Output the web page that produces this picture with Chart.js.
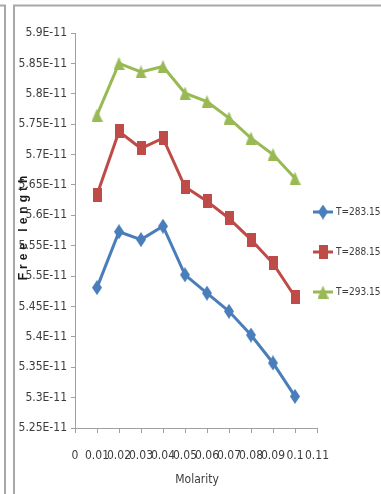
<!DOCTYPE html>
<html>
<head>
<meta charset="utf-8">
<script src="https://cdn.jsdelivr.net/npm/chart.js@4"></script>
<style>
  html, body { margin: 0; padding: 0; background: #fff; overflow: hidden; }
  canvas { display: block; }
</style>
</head>
<body>
<canvas id="chart" width="381" height="494"></canvas>
<script>
// Molarity of the solutions (x axis)
const molarity = [0.01, 0.02, 0.03, 0.04, 0.05, 0.06, 0.07, 0.08, 0.09, 0.10];

// Free length, in units of 1E-11, at each temperature
const freeLength283 = [5.481, 5.573, 5.560, 5.582, 5.502, 5.472, 5.442, 5.403, 5.357, 5.302];
const freeLength288 = [5.634, 5.738, 5.710, 5.727, 5.647, 5.623, 5.595, 5.560, 5.521, 5.466];
const freeLength293 = [5.765, 5.850, 5.836, 5.845, 5.801, 5.787, 5.760, 5.727, 5.700, 5.661];

const seriesNames = ['T=283.15K', 'T=288.15K', 'T=293.15K'];

const xTickLabels = ['0', '0.01', '0.02', '0.03', '0.04', '0.05', '0.06', '0.07', '0.08', '0.09', '0.1', '0.11'];
const yTickLabels = ['5.25E-11', '5.3E-11', '5.35E-11', '5.4E-11', '5.45E-11', '5.5E-11', '5.55E-11',
                     '5.6E-11', '5.65E-11', '5.7E-11', '5.75E-11', '5.8E-11', '5.85E-11', '5.9E-11'];

const xTitle = 'Molarity';
const yTitle = 'Free length';

const FONT = "'Liberation Sans Narrow', 'DejaVu Sans Condensed', 'Liberation Sans', Arial, sans-serif";
const TEXT_COLOR = '#3c3c3c';
const AXIS_COLOR = '#a0a0a0';
const COLORS = ['#4a7ebb', '#be4b48', '#98b954'];

// Small marker images: diamond, tall square, triangle
function makeMarker(shape, color, w, h) {
  const c = document.createElement('canvas');
  c.width = w; c.height = h;
  const g = c.getContext('2d');
  g.fillStyle = color;
  g.beginPath();
  if (shape === 'diamond') {
    g.moveTo(w / 2, 0); g.lineTo(w, h / 2); g.lineTo(w / 2, h); g.lineTo(0, h / 2);
  } else if (shape === 'rect') {
    g.rect(0, 0, w, h);
  } else {
    g.moveTo(w / 2, 0); g.lineTo(w, h); g.lineTo(0, h);
  }
  g.closePath();
  g.fill();
  return c;
}
const markers = [
  makeMarker('diamond', COLORS[0], 10, 15),
  makeMarker('rect', COLORS[1], 9, 14),
  makeMarker('triangle', COLORS[2], 11, 13)
];

function points(ys) {
  return molarity.map((x, i) => ({ x: x, y: ys[i] }));
}

function findLabel(list, value, scale) {
  const hit = list.find(l => Math.abs(parseFloat(l) * scale - value) < 1e-6);
  return hit === undefined ? '' : hit;
}

// Outer frame lines
const framePlugin = {
  id: 'frame',
  beforeDraw(chart) {
    const ctx = chart.ctx;
    ctx.save();
    ctx.fillStyle = '#fff';
    ctx.fillRect(0, 0, chart.width, chart.height);
    ctx.strokeStyle = '#a8a8a8';
    ctx.lineWidth = 2;
    ctx.beginPath();
    ctx.moveTo(0, 5.5); ctx.lineTo(5, 5.5); ctx.lineTo(5, chart.height);
    ctx.moveTo(14, chart.height); ctx.lineTo(14, 5.5); ctx.lineTo(chart.width, 5.5);
    ctx.stroke();
    ctx.restore();
  }
};

// Axis titles and the legend at the right
const annotatePlugin = {
  id: 'annotate',
  afterDraw(chart) {
    const ctx = chart.ctx;
    ctx.save();

    // x axis title
    ctx.fillStyle = TEXT_COLOR;
    ctx.font = '12px ' + FONT;
    ctx.textAlign = 'center';
    ctx.textBaseline = 'middle';
    ctx.fillText(xTitle, 197, 480);

    // y axis title, rotated, spaced letters
    ctx.save();
    ctx.translate(24, 228);
    ctx.rotate(-Math.PI / 2);
    ctx.font = "bold 12px 'Liberation Sans', Arial, sans-serif";
    ctx.fillStyle = '#1a1a1a';
    ctx.textAlign = 'left';
    const spacing = 4;
    const chars = Array.from(yTitle);
    const widths = chars.map(ch => ctx.measureText(ch).width);
    const total = widths.reduce((a, b) => a + b, 0) + spacing * (chars.length - 1);
    let pos = -total / 2;
    chars.forEach((ch, i) => { ctx.fillText(ch, pos, 0); pos += widths[i] + spacing; });
    ctx.restore();

    // legend
    const legendTop = 212, legendStep = 40;
    chart.data.datasets.forEach((ds, i) => {
      const y = legendTop + i * legendStep;
      ctx.strokeStyle = ds.borderColor;
      ctx.lineWidth = 3;
      ctx.beginPath();
      ctx.moveTo(313, y); ctx.lineTo(333, y);
      ctx.stroke();
      const m = markers[i];
      ctx.drawImage(m, 323 - m.width / 2, y - m.height / 2);
      ctx.fillStyle = TEXT_COLOR;
      ctx.font = '10px ' + FONT;
      ctx.textAlign = 'left';
      ctx.textBaseline = 'middle';
      ctx.fillText(ds.label, 336, y);
    });
    ctx.restore();
  }
};

const datasets = [freeLength283, freeLength288, freeLength293].map((ys, i) => ({
  label: seriesNames[i],
  data: points(ys),
  borderColor: COLORS[i],
  backgroundColor: COLORS[i],
  borderWidth: 3,
  pointStyle: markers[i],
  pointRadius: 5,
  pointHoverRadius: 5,
  tension: 0
}));

new Chart(document.getElementById('chart'), {
  type: 'line',
  data: { datasets: datasets },
  plugins: [framePlugin, annotatePlugin],
  options: {
    responsive: false,
    animation: false,
    devicePixelRatio: 1,
    layout: { padding: { top: 33, right: 64, bottom: 0, left: 0 } },
    plugins: { legend: { display: false }, tooltip: { enabled: false } },
    scales: {
      x: {
        type: 'linear',
        min: 0, max: 0.11,
        afterFit: s => { s.height = 66; },
        ticks: {
          stepSize: 0.01, autoSkip: false, maxRotation: 0, minRotation: 0,
          padding: 16, color: TEXT_COLOR, font: { family: FONT, size: 12 },
          callback: v => findLabel(xTickLabels, v, 1)
        },
        grid: { drawOnChartArea: false, drawTicks: true, tickLength: 5, color: AXIS_COLOR },
        border: { color: AXIS_COLOR, width: 1 }
      },
      y: {
        type: 'linear',
        min: 5.25, max: 5.9,
        afterFit: s => { s.width = 75; },
        ticks: {
          stepSize: 0.05, autoSkip: false,
          padding: 4, color: TEXT_COLOR, font: { family: FONT, size: 12 },
          callback: v => findLabel(yTickLabels, v, 1e11)
        },
        grid: { drawOnChartArea: false, drawTicks: true, tickLength: 4, color: AXIS_COLOR },
        border: { color: AXIS_COLOR, width: 1 }
      }
    }
  }
});
</script>
</body>
</html>
